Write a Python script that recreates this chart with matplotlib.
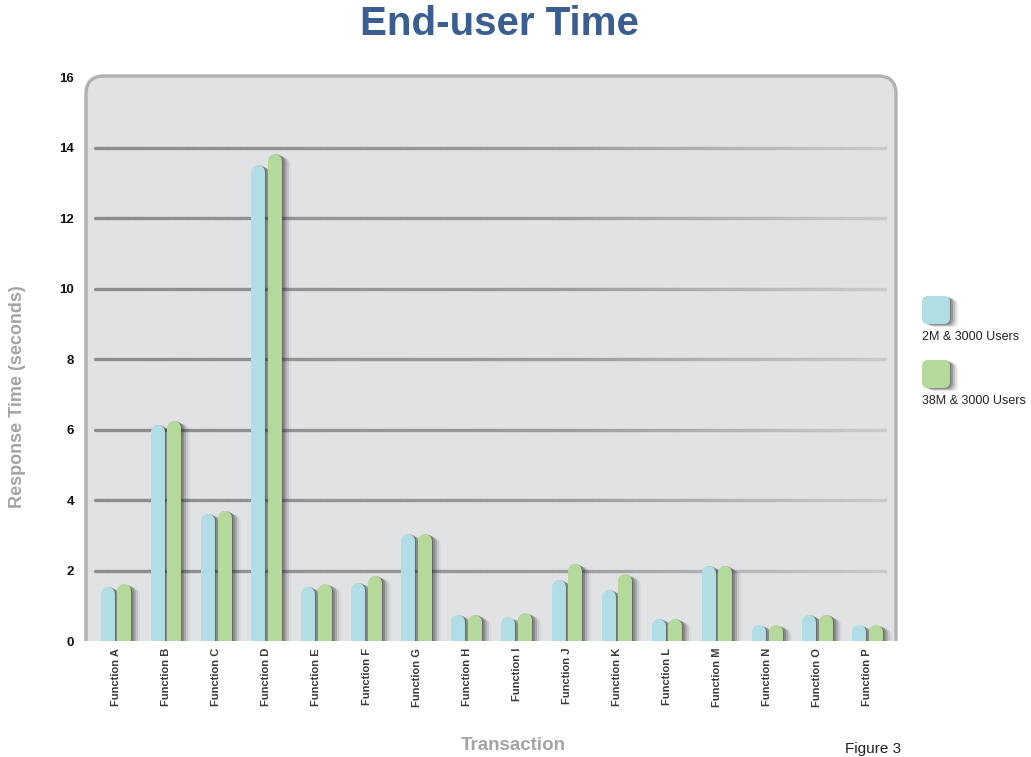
"""
End-user Time chart: response time per transaction for two data/user setups.
"""

import numpy as np
import matplotlib.pyplot as plt
from matplotlib.patches import FancyBboxPatch, Rectangle
from matplotlib.collections import LineCollection
from matplotlib.colors import LinearSegmentedColormap
from matplotlib.transforms import offset_copy


FUNCTIONS = [
    "Function A", "Function B", "Function C", "Function D",
    "Function E", "Function F", "Function G", "Function H",
    "Function I", "Function J", "Function K", "Function L",
    "Function M", "Function N", "Function O", "Function P",
]
TIME_2M = [1.54, 6.14, 3.61, 13.52, 1.54, 1.66, 3.04, 0.74,
           0.67, 1.73, 1.45, 0.63, 2.13, 0.45, 0.74, 0.45]
TIME_38M = [1.61, 6.25, 3.69, 13.83, 1.61, 1.85, 3.04, 0.74,
            0.79, 2.19, 1.89, 0.63, 2.13, 0.45, 0.74, 0.45]
SERIES_NAMES = ["2M & 3000 Users", "38M & 3000 Users"]
Y_TICKS = [0, 2, 4, 6, 8, 10, 12, 14, 16]

BLUE = "#b0dee4"
GREEN = "#b5d99a"
TITLE_BLUE = "#3b5e91"
LABEL_GRAY = "#a4a4a4"
PANEL_FILL = "#e1e2e4"
PANEL_EDGE = "#b0b1b3"

W, H = 1031, 757
BAR_PX = 14
SHADOW_LAYERS = [(1, 0.3), (3, 0.25), (5, 0.18), (7, 0.1), (9, 0.05)]

plt.rcParams["font.family"] = ["Liberation Sans", "DejaVu Sans"]


def draw_bars(fig, ax, x, values, color):
    """Bars with rounded tops and a soft shadow to the right."""
    px_per_unit = ax.get_window_extent().height / (Y_TICKS[-1] - Y_TICKS[0])
    cap = BAR_PX / 2 / px_per_unit
    lw = BAR_PX * 72 / fig.dpi
    tops = np.asarray(values) - cap
    for dx, alpha in SHADOW_LAYERS:
        tr = offset_copy(ax.transData, fig=fig, x=dx, y=-dx * 0.4, units="dots")
        ax.vlines(x, 0, tops, colors="#2a2a2a", alpha=alpha, linewidth=lw,
                  capstyle="round", transform=tr, zorder=2)
    ax.vlines(x, 0, tops, colors=color, linewidth=lw, capstyle="round", zorder=3)


def draw_gridlines(ax):
    """Horizontal gridlines fading from dark on the left to light on the right."""
    cmap = LinearSegmentedColormap.from_list(
        "grid", [(0, "#8b8c8e"), (0.6, "#9c9d9f"), (1, "#c9cacc")])
    xs = np.linspace(0.012, 0.986, 120)
    for y in Y_TICKS[1:-1]:
        segs = [[(xs[i], y), (xs[i + 1], y)] for i in range(len(xs) - 1)]
        lc = LineCollection(segs, colors=cmap(np.linspace(0, 1, len(segs))),
                            linewidth=2.4, capstyle="round",
                            transform=ax.get_yaxis_transform(), zorder=1)
        ax.add_collection(lc)


def main() -> None:
    fig = plt.figure(figsize=(W / 100, H / 100), dpi=100)

    # background layer in pixel coordinates (y downwards)
    bg = fig.add_axes([0, 0, 1, 1])
    bg.set_xlim(0, W)
    bg.set_ylim(H, 0)
    bg.axis("off")

    panel = FancyBboxPatch((86, 76), 810, 600,
                           boxstyle="round,pad=0,rounding_size=18",
                           fc=PANEL_FILL, ec=PANEL_EDGE, lw=2.4, zorder=1)
    bg.add_patch(panel)
    bg.add_patch(Rectangle((0, 641), W, H - 641, fc="white", ec="none", zorder=2))

    bg.text(499, 24, "End-user Time", ha="center", va="center",
            fontsize=29, fontweight="bold", color=TITLE_BLUE)
    bg.text(18, 397, "Response Time (seconds)", ha="center", va="center",
            rotation=90, fontsize=13, fontweight="bold", color=LABEL_GRAY)
    bg.text(513, 745, "Transaction", ha="center", va="center",
            fontsize=13.5, fontweight="bold", color=LABEL_GRAY)
    bg.text(845, 749, "Figure 3", ha="left", va="center", fontsize=11,
            color="#222222")

    # legend
    for (ly, ty), name, color in zip([(296, 337), (360, 401)], SERIES_NAMES,
                                     [BLUE, GREEN]):
        for dx, alpha in SHADOW_LAYERS:
            bg.add_patch(FancyBboxPatch((922 + dx, ly + dx * 0.4), 28, 28,
                                        boxstyle="round,pad=0,rounding_size=6",
                                        fc="#2a2a2a", ec="none", alpha=alpha,
                                        zorder=3))
        bg.add_patch(FancyBboxPatch((922, ly), 28, 28,
                                    boxstyle="round,pad=0,rounding_size=6",
                                    fc=color, ec="none", zorder=4))
        bg.text(922, ty, name, ha="left", va="center", fontsize=9,
                color="#222222")

    # main chart axes
    ax = fig.add_axes([85 / W, 1 - 641 / H, 811 / W, (641 - 77.5) / H])
    ax.set_facecolor("none")
    ax.set_xlim(-0.62, 15.57)
    ax.set_ylim(Y_TICKS[0], Y_TICKS[-1])
    for spine in ax.spines.values():
        spine.set_visible(False)

    draw_gridlines(ax)

    x = np.arange(len(FUNCTIONS))
    draw_bars(fig, ax, x - 0.166, TIME_2M, BLUE)
    draw_bars(fig, ax, x + 0.166, TIME_38M, GREEN)

    ax.set_yticks(Y_TICKS)
    ax.set_yticklabels([str(v) for v in Y_TICKS], fontsize=9.5,
                       fontweight="bold", color="#111111")
    ax.set_xticks(x)
    ax.set_xticklabels(FUNCTIONS, rotation=90, fontsize=8, fontweight="bold",
                       color="#3a3a3a")
    ax.tick_params(axis="y", length=0, pad=8)
    ax.tick_params(axis="x", length=0, pad=5)

    fig.savefig("out.png", dpi=100)


if __name__ == "__main__":
    main()
